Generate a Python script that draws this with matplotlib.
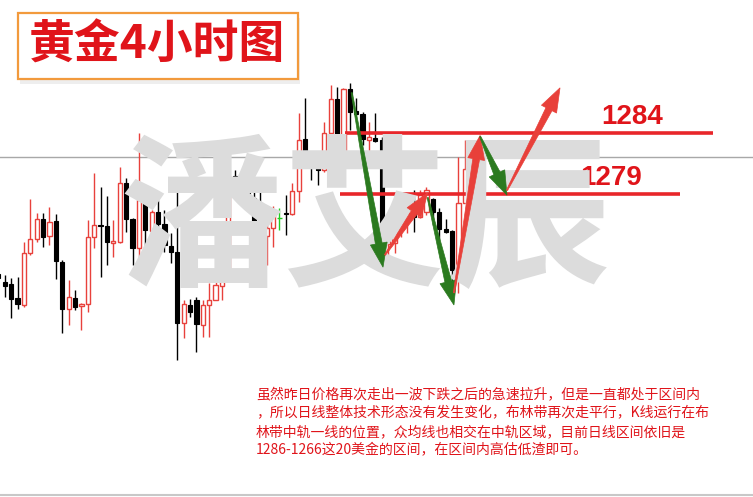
import matplotlib
matplotlib.use("Agg")
import matplotlib.pyplot as plt
from matplotlib.patches import Rectangle, Polygon
import numpy as np

plt.rcParams['font.family'] = ['Noto Sans CJK SC', 'DejaVu Sans']

# ---- candle data (4H gold) ----
opens = [1272.44, 1271.79, 1271.62, 1270.47, 1269.90, 1274.16, 1275.31, 1276.95, 1275.56, 1276.79,
         1273.43, 1269.57, 1270.47, 1269.82, 1269.98, 1275.47, 1276.46, 1276.38, 1274.98, 1275.06,
         1279.90, 1276.95, 1274.57, 1278.51, 1275.97, 1277.52, 1276.54, 1274.74, 1274.24, 1268.43,
         1269.90, 1270.31, 1268.26, 1269.90, 1270.31, 1271.46, 1272.61, 1280.47, 1279.74, 1279.33,
         1278.67, 1275.88, 1275.56, 1276.21, 1277.03, 1277.44, 1277.36, 1279.24, 1283.51, 1281.87,
         1281.62, 1280.97, 1284.00, 1286.79, 1282.03, 1287.61, 1285.80, 1285.56, 1283.43, 1283.59,
         1283.43, 1274.90, 1274.98, 1276.05, 1276.70, 1277.44, 1277.11, 1277.52, 1278.59, 1277.52,
         1276.13, 1275.97, 1272.77, 1278.26, 1281.54, 1280.97]
highs = [1272.93, 1272.36, 1272.11, 1272.20, 1275.06, 1278.59, 1277.44, 1277.44, 1277.93, 1277.36,
         1273.59, 1271.95, 1271.13, 1270.06, 1276.87, 1280.72, 1279.57, 1278.83, 1276.87, 1281.21,
         1280.31, 1277.03, 1284.00, 1278.92, 1277.69, 1278.51, 1277.69, 1275.80, 1279.49, 1270.31,
         1270.39, 1270.56, 1270.31, 1271.70, 1272.93, 1274.16, 1282.77, 1280.97, 1280.15, 1279.57,
         1279.16, 1279.90, 1276.62, 1278.02, 1277.85, 1278.92, 1279.90, 1285.64, 1286.87, 1282.44,
         1281.95, 1284.90, 1287.93, 1287.77, 1287.69, 1288.10, 1286.87, 1285.72, 1284.90, 1285.64,
         1283.67, 1276.05, 1276.29, 1277.11, 1278.51, 1279.33, 1279.33, 1279.57, 1278.67, 1277.85,
         1276.95, 1276.05, 1282.03, 1283.43, 1281.95, 1282.61]
lows = [1271.54, 1270.56, 1268.83, 1269.57, 1269.74, 1274.00, 1275.06, 1274.65, 1274.82, 1272.03,
        1267.61, 1268.26, 1269.49, 1267.85, 1269.33, 1274.57, 1272.20, 1273.18, 1273.83, 1274.98,
        1275.88, 1273.18, 1273.34, 1274.65, 1275.31, 1276.29, 1274.24, 1273.34, 1265.39, 1267.20,
        1268.92, 1266.05, 1267.28, 1267.28, 1270.31, 1270.31, 1272.52, 1279.57, 1278.26, 1277.85,
        1275.06, 1271.70, 1273.18, 1274.65, 1276.05, 1275.64, 1277.28, 1278.34, 1281.62, 1280.15,
        1279.74, 1280.80, 1282.61, 1281.87, 1281.95, 1284.24, 1285.47, 1283.02, 1282.36, 1283.26,
        1273.83, 1274.00, 1274.16, 1275.47, 1275.80, 1275.88, 1277.03, 1277.28, 1276.46, 1275.23,
        1275.80, 1270.56, 1270.88, 1278.26, 1280.39, 1280.39]
closes = [1272.11, 1271.46, 1270.39, 1269.98, 1274.16, 1275.31, 1276.95, 1275.47, 1276.70, 1273.51,
          1269.57, 1270.56, 1269.74, 1269.98, 1275.47, 1276.46, 1276.38, 1275.06, 1275.15, 1279.90,
          1276.95, 1274.57, 1278.51, 1276.05, 1277.52, 1276.54, 1274.82, 1274.24, 1268.43, 1269.98,
          1269.33, 1268.34, 1269.90, 1270.31, 1271.54, 1272.77, 1280.47, 1279.74, 1279.33, 1278.67,
          1275.88, 1275.64, 1276.21, 1277.44, 1277.03, 1277.36, 1279.24, 1283.43, 1281.87, 1281.54,
          1280.97, 1284.00, 1286.79, 1282.03, 1287.61, 1285.72, 1285.56, 1283.51, 1283.67, 1283.34,
          1274.98, 1275.15, 1276.05, 1276.87, 1277.44, 1277.11, 1278.92, 1279.33, 1277.52, 1276.13,
          1275.88, 1272.77, 1278.26, 1281.05, 1280.97, 1282.36]

current_price = 1282.03
levels = [1284, 1279]
level_spans = [(54.2, 111.8), (53.4, 106.7)]
level_label_pos = [(99.2, 1284.25), (95.9, 1279.25)]

# arrows: (x0, p0, x1, p1, kind)
arrows = [
    (55.3, 1287.3, 60.2, 1273.0, 'down'),
    (60.5, 1274.0, 67.2, 1279.1, 'up'),
    (67.2, 1278.7, 71.3, 1269.9, 'down'),
    (71.3, 1270.9, 75.4, 1283.8, 'up'),
    (75.4, 1283.7, 79.6, 1278.9, 'down'),
    (79.6, 1279.3, 87.9, 1287.7, 'up'),
]

title = "黄金4小时图"
watermark = "潘艾辰"
comment_lines = [
    "虽然昨日价格再次走出一波下跌之后的急速拉升，但是一直都处于区间内",
    "，所以日线整体技术形态没有发生变化，布林带再次走平行，K线运行在布",
    "林带中轨一线的位置，众均线也相交在中轨区域，目前日线区间依旧是",
    "1286-1266这20美金的区间，在区间内高估低渣即可。",
]

RED = '#e8262a'
CANDLE_RED = '#e8413c'
GREEN_ARROW = '#2b7a1f'
RED_ARROW = '#e8403a'
TEXT_RED = '#e0141a'

fig = plt.figure(figsize=(7.53, 4.97), dpi=100)
ax = fig.add_axes([0, 0, 1, 1])
ax.set_xlim(0.26, 118.1)
ax.set_ylim(1254.16, 1294.90)
ax.axis('off')

# watermark
fig.text(0.485, 0.547, watermark, fontsize=118, color='#dcdcdc', fontweight='bold',
         ha='center', va='center', zorder=0)

# current price line
ax.axhline(current_price, color='#a8a8a8', lw=1.0, zorder=1)

# candles
x = np.arange(len(opens))
w = 0.66
for i in x:
    o, h, l, c = opens[i], highs[i], lows[i], closes[i]
    if c > o:
        col = CANDLE_RED
        ax.vlines(i, l, h, color=col, lw=1.0, zorder=3)
        ax.bar(i, c - o, bottom=o, width=w, facecolor='white', edgecolor=col, lw=1.0, zorder=4)
    elif c < o:
        col = 'black'
        ax.vlines(i, l, h, color=col, lw=1.0, zorder=3)
        ax.bar(i, c - o, bottom=o, width=w, facecolor='black', edgecolor='black', lw=0.8, zorder=4)
    else:
        col = '#22cc22'
        ax.vlines(i, l, h, color=col, lw=1.0, zorder=3)
        ax.hlines(o, i - w / 2, i + w / 2, color=col, lw=1.0, zorder=4)

# level lines
for lev, (xa, xb), (tx, ty) in zip(levels, level_spans, level_label_pos):
    ax.hlines(lev, xa, xb, color=RED, lw=2.6, zorder=5)
    ax.text(tx, ty, str(lev), color=TEXT_RED, fontsize=20, fontweight='bold',
            ha='center', va='bottom', family=['Liberation Sans', 'DejaVu Sans'], zorder=6)

# arrows (tapered, pixel-space geometry)
def tapered_arrow(x0, y0, x1, y1, color):
    S = ax.transData.transform((x0, y0))
    E = ax.transData.transform((x1, y1))
    d = E - S
    L = np.hypot(*d)
    u = d / L
    n = np.array([-u[1], u[0]])
    hl, hw, sw, s0 = 24.0, 8.5, 3.4, 0.6
    B = E - u * hl
    pts = [S + n * s0, B + n * sw, B + n * hw, E, B - n * hw, B - n * sw, S - n * s0]
    pts = [fig.transFigure.inverted().transform(p) for p in pts]
    poly = Polygon(pts, closed=True, facecolor=color, edgecolor=color, lw=0.5,
                   transform=fig.transFigure, zorder=7)
    fig.add_artist(poly)

fig.canvas.draw()
for (x0, p0, x1, p1, kind) in arrows:
    tapered_arrow(x0, p0, x1, p1, GREEN_ARROW if kind == 'down' else RED_ARROW)

# title box with faint shadow
fig.add_artist(Rectangle((20 / 753, 1 - 84 / 497), 280 / 753, 66 / 497, transform=fig.transFigure,
                         facecolor='#eeeeee', edgecolor='none', zorder=7.5))
fig.add_artist(Rectangle((18 / 753, 1 - 79 / 497), 280 / 753, 66 / 497, transform=fig.transFigure,
                         facecolor='white', edgecolor='#f29a3c', lw=1.6, zorder=8))
fig.text(157 / 753, 1 - 46 / 497, title, fontsize=33, fontweight='bold', color=TEXT_RED,
         ha='center', va='center', zorder=9)

# comment text
for k, line in enumerate(comment_lines):
    fig.text(256 / 753, 1 - (395 + 18.4 * k) / 497, line, fontsize=10, color=TEXT_RED,
             ha='left', va='center', zorder=9)

# bottom border line
fig.add_artist(plt.Line2D([0, 1], [1 - 495 / 497, 1 - 495 / 497], color='#c8c8c8', lw=1.5,
                          transform=fig.transFigure))

fig.savefig('out.png', dpi=100)
